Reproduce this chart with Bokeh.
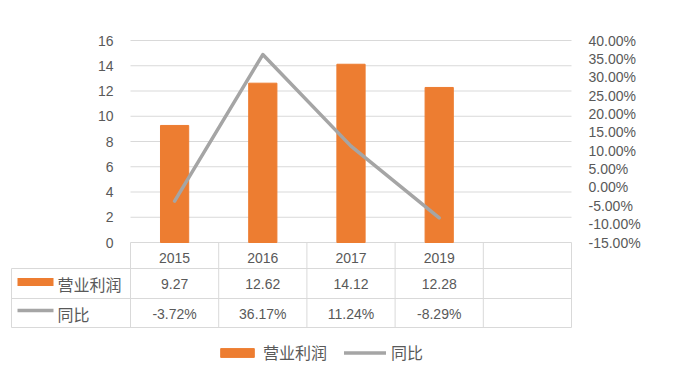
from bokeh.plotting import figure
from bokeh.models import (Range1d, LinearAxis, FixedTicker, NumeralTickFormatter,
                          ColumnDataSource, Legend, LegendItem)
from bokeh.core.properties import value
from bokeh.embed import file_html
from bokeh.resources import INLINE

# ---------------- data ----------------
years = ["2015", "2016", "2017", "2019"]
profit = [9.27, 12.62, 14.12, 12.28]          # 营业利润
yoy = [-0.0372, 0.3617, 0.1124, -0.0829]      # 同比
series_names = ["营业利润", "同比"]
left_ticks = [0, 2, 4, 6, 8, 10, 12, 14, 16]
right_ticks = [-0.15, -0.10, -0.05, 0.0, 0.05, 0.10, 0.15, 0.20, 0.25, 0.30, 0.35, 0.40]
n_cols = 5  # data table has one extra empty column

# ---------------- styles / layout ----------------
TXT = "#595959"
GRID = "#d9d9d9"
ORANGE = "#ED7D31"
GRAY = "#A5A5A5"
NUM_FONT = "Liberation Sans"
CJK_FONT = "Noto Sans CJK SC"

W, H = 700, 370
PLOT_L, PLOT_R, PLOT_T, PLOT_B = 130, 571, 40, 242   # plot area in canvas pixels
CW = (PLOT_R - PLOT_L) / n_cols
PPU = (PLOT_B - PLOT_T) / (left_ticks[-1] - left_ticks[0])
PCT_PER_PX = (right_ticks[-1] - right_ticks[0]) / (PLOT_B - PLOT_T)

def dx(px):
    return (px - PLOT_L) / CW

def dy(px):
    return left_ticks[0] + (PLOT_B - px) / PPU

def dpct(px):
    return right_ticks[0] + (PLOT_B - px) * PCT_PER_PX

p = figure(width=W, height=H, output_backend="svg", toolbar_location=None,
           x_range=Range1d(dx(0), dx(W)), y_range=Range1d(dy(H), dy(0)),
           x_axis_location=None, y_axis_location=None,
           min_border=0, min_border_left=0, min_border_right=0,
           min_border_top=0, min_border_bottom=0)
p.outline_line_color = None
p.grid.visible = False
p.background_fill_color = "white"
p.border_fill_color = "white"
p.extra_y_ranges = {"pct": Range1d(dpct(H), dpct(0))}

def style_axis(ax, standoff):
    ax.axis_line_color = None
    ax.major_tick_line_color = None
    ax.minor_tick_line_color = None
    ax.major_tick_out = 0
    ax.major_tick_in = 0
    ax.minor_tick_out = 0
    ax.minor_tick_in = 0
    ax.major_label_standoff = standoff
    ax.major_label_text_font = NUM_FONT
    ax.major_label_text_font_size = "14px"
    ax.major_label_text_color = TXT

xs = [i + 0.5 for i in range(len(years))]
col_centers = [i + 0.5 for i in range(n_cols)]

# gridlines of the primary axis (only across the plot area)
p.segment(x0=0, x1=n_cols, y0=left_ticks, y1=left_ticks, line_color=GRID, line_width=1)

# left axis
lax = LinearAxis(ticker=FixedTicker(ticks=left_ticks), fixed_location=0)
style_axis(lax, 17)
p.add_layout(lax, "left")

# right axis
rax = LinearAxis(y_range_name="pct", ticker=FixedTicker(ticks=right_ticks),
                 formatter=NumeralTickFormatter(format="0.00%"), fixed_location=n_cols)
style_axis(rax, 17)
p.add_layout(rax, "right")

# category axis = header row of the data table
xax = LinearAxis(ticker=FixedTicker(ticks=col_centers), fixed_location=0)
xax.major_label_overrides = {c: (years[i] if i < len(years) else " ")
                             for i, c in enumerate(col_centers)}
style_axis(xax, 7)
p.add_layout(xax, "below")

# series
src = ColumnDataSource(dict(x=xs, profit=profit, yoy=yoy))
bars = p.vbar(x="x", top="profit", width=0.32, source=src,
              fill_color=ORANGE, line_color=ORANGE)
line = p.line(x="x", y="yoy", source=src, y_range_name="pct",
              line_color=GRAY, line_width=3.5, line_cap="round", line_join="round")

# ---------------- data table ----------------
ROW_EDGES = [242, 268, 298, 327]
LEG_L = 11
# vertical lines
vx = list(range(n_cols + 1))
p.segment(x0=vx, x1=vx, y0=dy(ROW_EDGES[0]), y1=dy(ROW_EDGES[-1]), line_color=GRID, line_width=1)
p.segment(x0=dx(LEG_L), x1=dx(LEG_L), y0=dy(ROW_EDGES[1]), y1=dy(ROW_EDGES[-1]),
          line_color=GRID, line_width=1)
# horizontal lines
hy = [dy(r) for r in ROW_EDGES[1:]]
p.segment(x0=dx(LEG_L), x1=n_cols, y0=hy, y1=hy, line_color=GRID, line_width=1)

row_y = [dy(283), dy(313)]
tab = ColumnDataSource(dict(
    x=xs + xs,
    y=[row_y[0]] * len(xs) + [row_y[1]] * len(xs),
    text=[f"{v:.2f}" for v in profit] + [f"{v * 100:.2f}%" for v in yoy],
))
p.text(x="x", y="y", text="text", source=tab, text_align="center",
       text_baseline="middle", text_font=value(NUM_FONT),
       text_font_size="14px", text_color=TXT)

# row headers with keys
p.quad(left=dx(17), right=dx(53), top=dy(277.5), bottom=dy(285.5),
       fill_color=ORANGE, line_color=None)
p.segment(x0=dx(17), x1=dx(53), y0=dy(310), y1=dy(310), line_color=GRAY, line_width=3.5)
p.text(x=[dx(57)] * 2, y=row_y, text=series_names, text_align="left",
       text_baseline="middle", text_font=value(CJK_FONT),
       text_font_size="16px", text_color=TXT)

# ---------------- legend ----------------
legend = Legend(items=[LegendItem(label=series_names[0], renderers=[bars]),
                       LegendItem(label=series_names[1], renderers=[line])],
                orientation="horizontal", location=(216, 6),
                glyph_width=42, glyph_height=11, label_standoff=5, spacing=17,
                padding=0, margin=0, border_line_color=None,
                background_fill_alpha=0, label_text_font=CJK_FONT,
                label_text_font_size="16px", label_text_color=TXT)
p.add_layout(legend)

open("out.html", "w").write(file_html(p, INLINE))
